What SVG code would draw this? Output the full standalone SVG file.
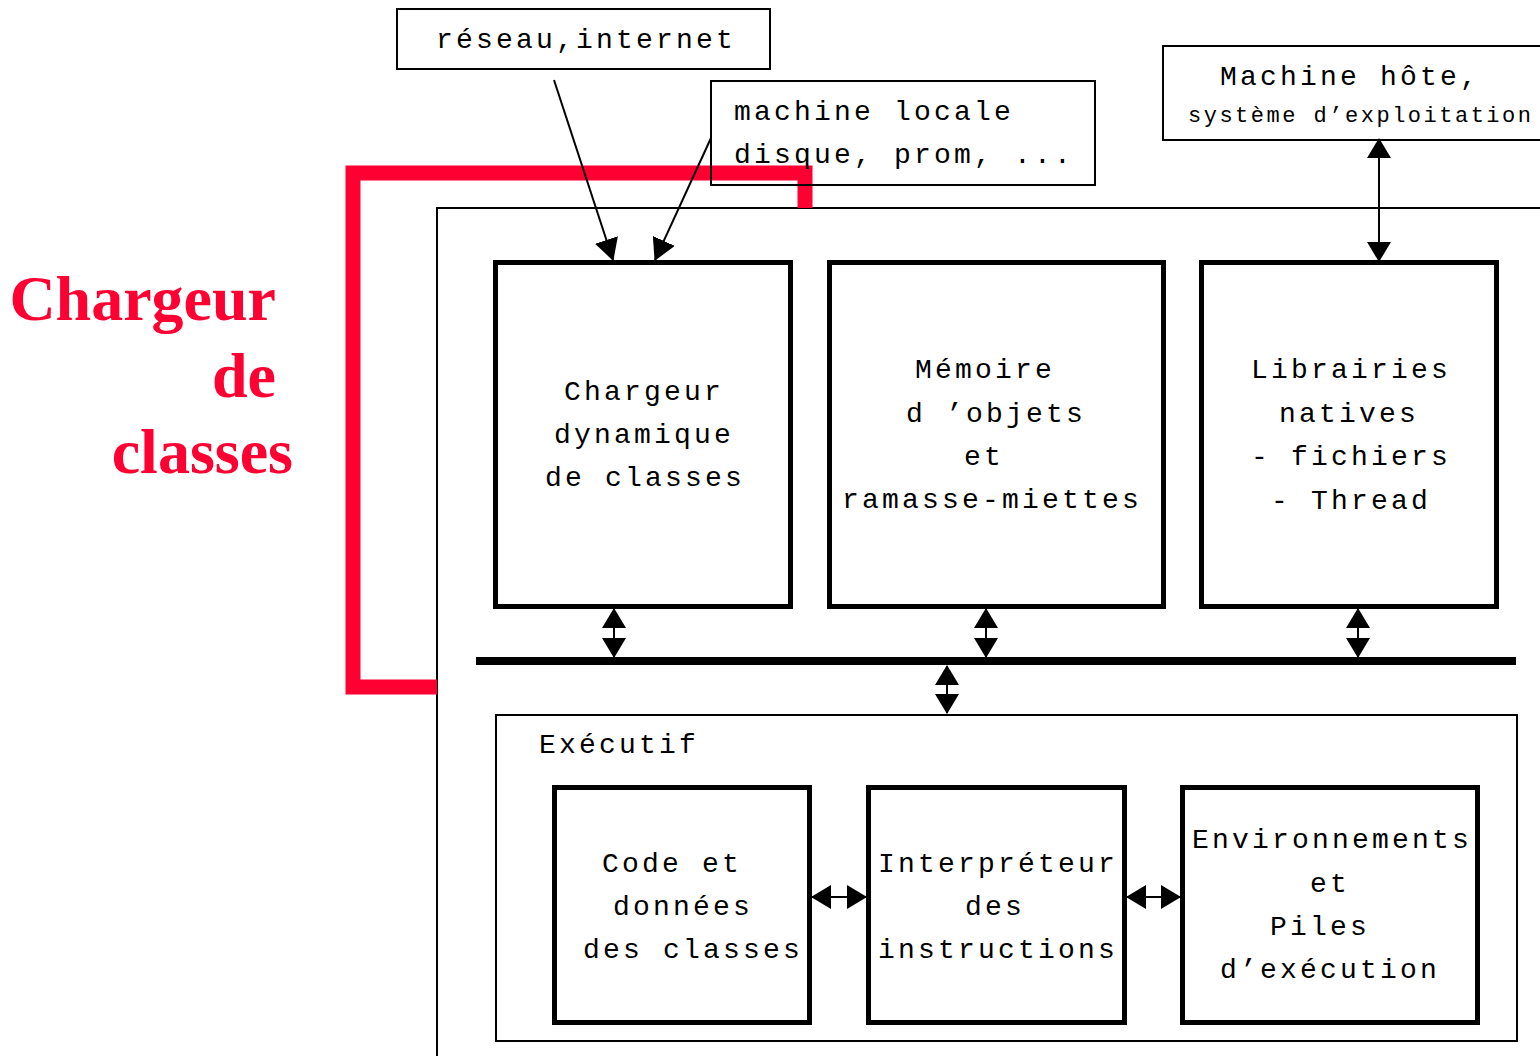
<svg xmlns="http://www.w3.org/2000/svg" width="1540" height="1056" viewBox="0 0 1540 1056">
  <defs>
    <style>
      .mono { font-family: "Liberation Mono", "Courier New", monospace; font-size: 28px; letter-spacing: 3.2px; fill: #000; }
      .small { font-size: 22px; letter-spacing: 2.5px; }
      .title { font-family: "Liberation Serif", "Times New Roman", serif; font-weight: bold; font-size: 64px; fill: #ff0033; text-anchor: end; }
      .thin { fill: #fff; stroke: #000; stroke-width: 2; }
      .open { fill: none; stroke: #000; stroke-width: 2; }
      .thick { fill: #fff; stroke: #000; stroke-width: 5; }
      .link { fill: none; stroke: #000; stroke-width: 2; }
    </style>
    <marker id="head" viewBox="0 0 22 24" refX="21" refY="12" markerWidth="22" markerHeight="24" markerUnits="userSpaceOnUse" orient="auto-start-reverse">
      <path d="M0,0 L22,12 L0,24 Z" fill="#000"/>
    </marker>
    <marker id="head-s" viewBox="0 0 20 24" refX="19" refY="12" markerWidth="20" markerHeight="24" markerUnits="userSpaceOnUse" orient="auto-start-reverse">
      <path d="M0,0 L20,12 L0,24 Z" fill="#000"/>
    </marker>
  </defs>

  <rect width="1540" height="1056" fill="#fff"/>

  <!-- virtual machine outline -->
  <g id="vm">
    <rect class="thin" x="437" y="208" width="1120" height="870"/>
  </g>

  <!-- class loader highlight -->
  <g id="loader-frame">
    <polyline points="805,208 805,173 353,173 353,687 437,687" fill="none" stroke="#ff0033" stroke-width="15" stroke-linejoin="miter"/>
  </g>
  <g id="loader-title">
    <text class="title" x="276" y="320">Chargeur</text>
    <text class="title" x="276" y="397">de</text>
    <text class="title" x="293" y="473">classes</text>
  </g>

  <!-- external sources -->
  <g id="network">
    <rect class="thin" x="397" y="9" width="373" height="60"/>
    <text class="mono" x="436" y="48">réseau,internet</text>
  </g>
  <g id="local-machine">
    <rect class="open" x="711" y="81" width="384" height="104"/>
    <text class="mono" x="734" y="120">machine locale</text>
    <text class="mono" x="734" y="163">disque, prom, ...</text>
  </g>
  <g id="host">
    <rect class="thin" x="1163" y="46" width="390" height="94"/>
    <text class="mono" x="1220" y="85">Machine hôte,</text>
    <text class="mono small" x="1188" y="122">système d’exploitation</text>
  </g>

  <!-- upper components -->
  <g id="class-loader">
    <rect class="thick" x="495.5" y="262.5" width="295" height="344"/>
    <text class="mono" x="564" y="400">Chargeur</text>
    <text class="mono" x="554" y="443">dynamique</text>
    <text class="mono" x="545" y="486">de classes</text>
  </g>
  <g id="object-memory">
    <rect class="thick" x="829.5" y="262.5" width="334" height="344"/>
    <text class="mono" x="915" y="378">Mémoire</text>
    <text class="mono" x="906" y="422">d ’objets</text>
    <text class="mono" x="964" y="465">et</text>
    <text class="mono" x="842" y="508">ramasse-miettes</text>
  </g>
  <g id="native-libs">
    <rect class="thick" x="1201.5" y="262.5" width="295" height="344"/>
    <text class="mono" x="1251" y="378">Librairies</text>
    <text class="mono" x="1279" y="422">natives</text>
    <text class="mono" x="1251" y="465">- fichiers</text>
    <text class="mono" x="1271" y="509">- Thread</text>
  </g>

  <!-- executive -->
  <g id="executive">
    <rect class="thin" x="496" y="715" width="1021" height="326"/>
    <text class="mono" x="539" y="753">Exécutif</text>
  </g>
  <g id="class-data">
    <rect class="thick" x="554.5" y="787.5" width="255" height="235"/>
    <text class="mono" x="602" y="872">Code et</text>
    <text class="mono" x="613" y="915">données</text>
    <text class="mono" x="583" y="958">des classes</text>
  </g>
  <g id="interpreter">
    <rect class="thick" x="868.5" y="787.5" width="256" height="235"/>
    <text class="mono" x="878" y="872">Interpréteur</text>
    <text class="mono" x="965" y="915">des</text>
    <text class="mono" x="878" y="958">instructions</text>
  </g>
  <g id="stacks">
    <rect class="thick" x="1182.5" y="787.5" width="295" height="235"/>
    <text class="mono" x="1192" y="848">Environnements</text>
    <text class="mono" x="1310" y="892">et</text>
    <text class="mono" x="1270" y="935">Piles</text>
    <text class="mono" x="1220" y="978">d’exécution</text>
  </g>

  <!-- connectors -->
  <g id="connectors">
    <line x1="476" y1="661" x2="1516" y2="661" stroke="#000" stroke-width="8"/>
    <line class="link" x1="554" y1="80" x2="613" y2="260" marker-end="url(#head)"/>
    <line class="link" x1="711" y1="138" x2="655" y2="260" marker-end="url(#head)"/>
    <line class="link" x1="1379" y1="139" x2="1379" y2="261" marker-start="url(#head-s)" marker-end="url(#head-s)"/>
    <line class="link" x1="614" y1="609" x2="614" y2="657" marker-start="url(#head-s)" marker-end="url(#head-s)"/>
    <line class="link" x1="986" y1="609" x2="986" y2="657" marker-start="url(#head-s)" marker-end="url(#head-s)"/>
    <line class="link" x1="1358" y1="609" x2="1358" y2="657" marker-start="url(#head-s)" marker-end="url(#head-s)"/>
    <line class="link" x1="947" y1="666" x2="947" y2="713" marker-start="url(#head-s)" marker-end="url(#head-s)"/>
    <line class="link" x1="812" y1="897" x2="866" y2="897" marker-start="url(#head-s)" marker-end="url(#head-s)"/>
    <line class="link" x1="1127" y1="897" x2="1180" y2="897" marker-start="url(#head-s)" marker-end="url(#head-s)"/>
  </g>
</svg>
